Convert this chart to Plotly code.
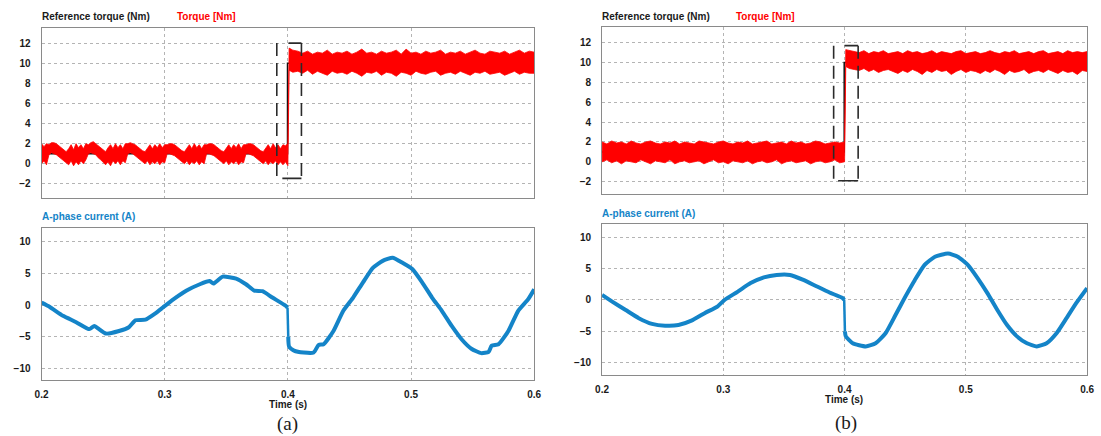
import plotly.graph_objects as go

W, H = 1101, 436

# ---------------- data ----------------
# torque noise band, panel (a): before step, sampled every 0.002 s from 0.200 to 0.400
torque_a_pre_upper = [2.0,1.7,2.0,1.9,2.1,2.1,2.0,1.8,1.6,1.4,1.2,
    1.5,1.9,1.4,2.0,1.6,1.9,1.5,2.0,1.9,2.1,
    2.2,2.0,1.8,1.6,1.4,1.2,1.6,1.9,1.5,2.0,
    1.6,1.9,1.5,2.0,2.0,2.1,2.0,1.9,1.7,1.5,
    1.3,1.2,1.6,1.9,1.5,1.9,1.6,2.0,1.6,1.9,
    1.9,2.0,2.0,1.9,1.7,1.5,1.3,1.2,1.5,1.9,
    1.5,2.0,1.6,1.9,1.5,1.9,1.9,2.0,2.0,1.9,
    1.7,1.5,1.3,1.2,1.5,1.9,1.5,1.9,1.6,2.0,
    1.5,1.9,1.9,2.0,2.0,1.9,1.7,1.5,1.3,1.2,
    1.5,1.9,1.5,2.0,1.6,1.9,1.5,1.9,1.8,2.0]
torque_a_pre_lower = [0.0,0.3,-0.1,0.9,1.1,1.0,0.9,0.7,0.5,0.3,0.1,
    -0.1,0.3,-0.2,0.2,-0.1,0.3,0.0,0.4,1.0,1.1,
    1.0,0.9,0.6,0.4,0.2,-0.1,0.2,-0.2,0.3,0.0,
    0.3,-0.1,0.3,0.1,1.0,1.1,1.0,0.8,0.6,0.4,
    0.2,0.0,0.3,-0.1,0.2,0.0,0.3,-0.1,0.2,0.1,
    1.0,1.0,0.9,0.8,0.6,0.4,0.2,0.0,0.3,-0.1,
    0.2,0.0,0.3,-0.1,0.2,0.0,1.0,1.0,0.9,0.8,
    0.6,0.4,0.2,0.0,0.3,-0.1,0.2,0.0,0.3,-0.1,
    0.2,0.1,1.0,1.0,0.9,0.8,0.6,0.4,0.2,0.0,
    0.3,-0.1,0.2,0.0,0.3,-0.1,0.2,-0.1,0.2,-0.2]
time_a_pre = [round(0.200 + 0.002 * i, 4) for i in range(len(torque_a_pre_upper))]

# panel (b): before step, sampled every 0.004 s from 0.200 to 0.400
torque_b_pre_upper = [2.0,1.8,2.1,1.9,2.0,1.8,2.1,1.9,1.8,2.0,
    2.1,1.9,1.8,2.0,1.9,2.1,1.8,2.0,1.9,1.8,
    2.1,2.0,1.9,1.8,2.0,2.1,1.9,1.8,2.0,1.9,
    2.1,1.8,1.9,2.0,2.1,1.8,1.9,2.0,1.8,2.1,
    1.9,2.0,1.8,1.9,2.1,2.0,1.8,1.9,2.0,1.9,2.0]
torque_b_pre_lower = [0.0,0.2,-0.1,0.1,-0.2,0.1,0.0,-0.1,0.2,0.0,
    -0.2,0.1,0.0,-0.1,0.2,-0.2,0.0,0.1,-0.1,0.0,
    0.1,-0.2,0.0,0.2,-0.1,0.0,-0.2,0.1,0.0,-0.1,
    0.1,-0.2,0.0,0.1,-0.1,0.0,0.2,-0.2,0.0,0.1,
    -0.1,0.0,0.1,-0.2,0.0,0.1,-0.1,0.0,0.2,-0.1,0.0]
time_b_pre = [round(0.200 + 0.004 * i, 4) for i in range(len(torque_b_pre_upper))]

# after the step: 0.401, then every 0.004 s from 0.404 to 0.600
time_post = [0.401] + [round(0.400 + 0.004 * k, 4) for k in range(1, 51)]
torque_a_post_upper = [11.5,11.3,11.2,11.0,11.2,10.9,11.1,11.0,11.3,10.9,
    11.1,11.0,11.2,10.9,11.1,11.4,11.0,11.1,10.9,11.2,
    11.0,11.1,11.3,10.9,11.4,11.0,11.1,10.9,11.2,11.0,
    11.1,11.3,10.9,11.1,11.0,11.2,10.9,11.1,11.3,11.0,
    10.9,11.2,11.1,11.0,11.2,10.9,11.1,11.3,11.0,11.2,11.1]
torque_a_post_lower = [9.3,9.1,9.2,9.0,9.3,8.9,9.2,9.0,8.8,9.2,
    9.0,9.1,8.9,9.2,9.0,8.7,9.1,9.0,9.2,8.8,
    9.1,9.0,8.7,9.1,9.0,8.8,9.2,9.0,8.9,9.1,
    9.2,8.8,9.0,9.1,8.9,9.2,9.0,8.8,9.1,9.0,
    9.2,8.9,9.0,9.1,8.8,9.0,9.2,8.9,9.1,9.0,9.0]
torque_b_post_upper = [11.3,11.2,11.1,11.0,11.2,10.9,11.1,11.0,11.2,10.9,
    11.0,11.1,10.9,11.2,11.0,11.1,10.9,11.0,11.2,10.9,
    11.1,11.0,10.9,11.1,11.2,10.9,11.0,11.1,10.9,11.0,
    11.2,11.0,10.9,11.1,11.0,11.2,10.9,11.0,11.1,10.9,
    11.1,11.2,10.9,11.0,11.1,10.9,11.2,11.0,11.1,11.0,11.1]
torque_b_post_lower = [9.6,9.4,9.3,9.2,9.4,9.1,9.3,9.0,9.2,9.3,
    9.1,8.9,9.2,9.0,9.3,9.1,8.8,9.2,9.0,9.3,
    9.1,9.2,8.8,9.1,9.3,9.0,9.2,9.1,8.9,9.2,
    9.0,9.3,9.1,8.8,9.2,9.0,9.1,9.3,8.9,9.1,
    9.2,9.0,9.3,9.1,8.9,9.2,9.0,9.1,8.8,9.2,9.1]

# reference torque (step)
ref_time = [0.2, 0.3997, 0.3997, 0.6]
ref_torque = [1.0, 1.0, 10.0, 10.0]

# A-phase current, split at the step (before / after)
current_a_time_pre = [0.200,0.2067,0.2174,0.2281,0.2388,0.2428,0.2460,0.2522,0.2629,0.2709,
    0.2763,0.2843,0.2924,0.2990,0.307,0.3178,0.3285,0.3365,0.3395,0.347,
    0.358,0.366,0.3727,0.3794,0.3874,0.3982,0.3997]
current_a_pre = [0.4,-0.3,-1.7,-2.7,-3.8,-3.3,-3.7,-4.5,-4.1,-3.5,
    -2.4,-2.3,-1.3,-0.3,0.9,2.3,3.3,3.8,3.4,4.5,
    4.2,3.3,2.3,2.2,1.2,-0.1,-0.4]
current_a_time_post = [0.4003,0.401,0.405,
    0.4129,0.4209,0.425,0.429,0.437,0.445,0.453,0.461,0.469,0.477,
    0.485,0.493,0.501,0.509,0.517,0.525,0.533,0.541,0.549,0.557,
    0.563,0.5655,0.571,0.579,0.587,0.595,0.600]
current_a_post = [-5.0,-6.6,-7.2,
    -7.5,-7.5,-6.3,-6.2,-4.1,-0.9,1.2,3.6,5.9,7.0,
    7.5,6.7,5.7,3.6,1.2,-0.9,-3.3,-5.4,-6.9,-7.6,
    -7.4,-6.4,-6.2,-4.1,-0.9,0.9,2.5]
current_b_time_pre = [0.200,0.2087,0.2195,0.2303,0.2412,0.252,0.263,0.2737,0.2846,0.2954,
    0.301,0.3117,0.3225,0.3334,0.344,0.355,0.366,0.3768,0.3876,0.3985,0.3997]
current_b_pre = [0.8,-0.3,-1.6,-2.9,-3.8,-4.1,-4.0,-3.3,-2.1,-1.0,
    0.0,1.3,2.7,3.6,4.0,4.0,3.2,2.2,1.2,0.3,0.0]
current_b_time_post = [0.4003,0.401,0.4067,0.4175,0.4256,0.4338,0.442,0.450,0.458,
    0.466,0.4745,0.4853,0.4934,0.5016,0.5097,0.5178,0.526,0.534,0.5422,
    0.5504,0.5585,0.5666,0.5748,0.583,0.591,0.600]
current_b_post = [-5.0,-5.8,-6.9,-7.4,-6.9,-5.3,-2.4,0.5,3.2,
    5.6,6.9,7.4,6.9,5.6,3.5,1.1,-1.6,-4.0,-5.8,
    -6.9,-7.4,-6.9,-5.3,-2.9,-0.5,1.9]

# zoom-marker boxes (dashed brackets): [left, top_start, right, bottom_start, top, bottom]
box_a = [0.391, 0.4005, 0.411, 0.3955, 12.0, -1.45]
box_b = [0.391, 0.400, 0.4112, 0.3947, 11.7, -1.9]

time_ticks = [0.2, 0.3, 0.4, 0.5, 0.6]
time_ticklabels = ["0.2", "0.3", "0.4", "0.5", "0.6"]
torque_ticks = [-2, 0, 2, 4, 6, 8, 10, 12]
current_ticks = [-10, -5, 0, 5, 10]

# ---------------- styling ----------------
RED = "#ff0000"
BLUE = "#1484c8"
FONT = "Liberation Sans, Arial, sans-serif"
GRID = "#b4b4b4"
BORDER = "#8a8a8a"

fig = go.Figure()


def band(t_pre, up_pre, lo_pre, t_post, up_post, lo_post, xa, ya):
    t = list(t_pre) + list(t_post)
    up = list(up_pre) + list(up_post)
    lo = list(lo_pre) + list(lo_post)
    fig.add_trace(go.Scatter(x=t + t[::-1], y=up + lo[::-1], fill="toself",
                             fillcolor=RED, mode="lines",
                             line=dict(color=RED, width=0.8),
                             xaxis=xa, yaxis=ya, hoverinfo="skip", showlegend=False))


def ref(xa, ya):
    fig.add_trace(go.Scatter(x=ref_time, y=ref_torque, mode="lines",
                             line=dict(color="#111111", width=1.5),
                             xaxis=xa, yaxis=ya, showlegend=False))


def bracket(b, xa, ya):
    left, top_start, right, bot_start, top, bot = b
    style_d = dict(color="#2a2a2a", width=1.6, dash="13px,7px")
    style_s = dict(color="#2a2a2a", width=1.6)
    fig.add_trace(go.Scatter(x=[left, left], y=[top, bot], mode="lines", line=style_d,
                             xaxis=xa, yaxis=ya, showlegend=False))
    fig.add_trace(go.Scatter(x=[right, right], y=[top, bot], mode="lines", line=style_d,
                             xaxis=xa, yaxis=ya, showlegend=False))
    fig.add_trace(go.Scatter(x=[top_start, right], y=[top, top], mode="lines", line=style_s,
                             xaxis=xa, yaxis=ya, showlegend=False))
    fig.add_trace(go.Scatter(x=[bot_start, right], y=[bot, bot], mode="lines", line=style_s,
                             xaxis=xa, yaxis=ya, showlegend=False))


def current(t_pre, v_pre, t_post, v_post, xa, ya):
    # smooth segments on both sides of the step, joined by a straight drop
    for t, v in ((t_pre, v_pre), (t_post, v_post)):
        fig.add_trace(go.Scatter(x=t, y=v, mode="lines",
                                 line=dict(color=BLUE, width=4, shape="spline", smoothing=0.5),
                                 xaxis=xa, yaxis=ya, showlegend=False))
    fig.add_trace(go.Scatter(x=[t_pre[-1], t_post[0]], y=[v_pre[-1], v_post[0]], mode="lines",
                             line=dict(color=BLUE, width=2.5),
                             xaxis=xa, yaxis=ya, showlegend=False))


# panel (a)
ref("x", "y")
band(time_a_pre, torque_a_pre_upper, torque_a_pre_lower,
     time_post, torque_a_post_upper, torque_a_post_lower, "x", "y")
bracket(box_a, "x", "y")
current(current_a_time_pre, current_a_pre, current_a_time_post, current_a_post, "x2", "y2")
# panel (b)
ref("x3", "y3")
band(time_b_pre, torque_b_pre_upper, torque_b_pre_lower,
     time_post, torque_b_post_upper, torque_b_post_lower, "x3", "y3")
bracket(box_b, "x3", "y3")
current(current_b_time_pre, current_b_pre, current_b_time_post, current_b_post, "x4", "y4")

tickfont = dict(family=FONT, size=10, color="#1a1a1a", weight="bold")


def xaxis(domain, anchor, labels):
    return dict(domain=domain, anchor=anchor, range=[0.2, 0.6],
                tickvals=time_ticks, ticktext=time_ticklabels if labels else [""] * 5,
                showticklabels=labels, ticks="outside", ticklen=5,
                tickcolor="rgba(0,0,0,0)", tickfont=tickfont,
                showgrid=True, gridcolor=GRID, griddash="dot", gridwidth=1,
                showline=True, linecolor=BORDER, linewidth=1, mirror=True,
                zeroline=False, fixedrange=True)


def yaxis(domain, anchor, rng, ticks):
    return dict(domain=domain, anchor=anchor, range=rng, tickvals=ticks,
                ticks="outside", ticklen=8, tickcolor="rgba(0,0,0,0)", tickfont=tickfont,
                showgrid=True, gridcolor=GRID, griddash="dot", gridwidth=1,
                showline=True, linecolor=BORDER, linewidth=1, mirror=True,
                zeroline=False, fixedrange=True)


def xd(a, b):
    return [a / W, b / W]


def yd(top, bottom):
    return [1 - bottom / H, 1 - top / H]


fig.update_layout(
    width=W, height=H, margin=dict(l=0, r=0, t=0, b=0),
    paper_bgcolor="white", plot_bgcolor="white", showlegend=False,
    xaxis=xaxis(xd(35, 534), "y", False),
    yaxis=yaxis(yd(28, 198), "x", [-3.4, 13.5], torque_ticks),
    xaxis2=xaxis(xd(35, 534), "y2", True),
    yaxis2=yaxis(yd(228, 380), "x2", [-11.85, 12.2], current_ticks),
    xaxis3=xaxis(xd(602.7, 1094), "y3", False),
    yaxis3=yaxis(yd(27.3, 194), "x3", [-3.24, 13.55], torque_ticks),
    xaxis4=xaxis(xd(602.7, 1094), "y4", True),
    yaxis4=yaxis(yd(224.3, 375), "x4", [-11.96, 12.07], current_ticks),
)


def label(text, x, y, color="#1a1a1a", size=10, family=FONT, weight="bold", anchor="left"):
    fig.add_annotation(text=text, x=x / W, y=1 - y / H, xref="paper", yref="paper",
                       xanchor=anchor, yanchor="middle", showarrow=False, borderpad=0,
                       font=dict(family=family, size=size, color=color, weight=weight))


label("Reference torque (Nm)", 34, 16)
label("Torque [Nm]", 171, 16, color=RED)
label("A-phase current (A)", 34, 216, color=BLUE)
label("Time (s)", 285, 404, anchor="center")
label("(a)", 284, 424, family="Liberation Serif, Times New Roman, serif", size=19,
      weight="normal", anchor="center")

label("Reference torque (Nm)", 602, 16)
label("Torque [Nm]", 737, 16, color=RED)
label("A-phase current (A)", 602, 213, color=BLUE)
label("Time (s)", 848, 399, anchor="center")
label("(b)", 850, 423, family="Liberation Serif, Times New Roman, serif", size=19,
      weight="normal", anchor="center")

fig.write_html("out.html")
